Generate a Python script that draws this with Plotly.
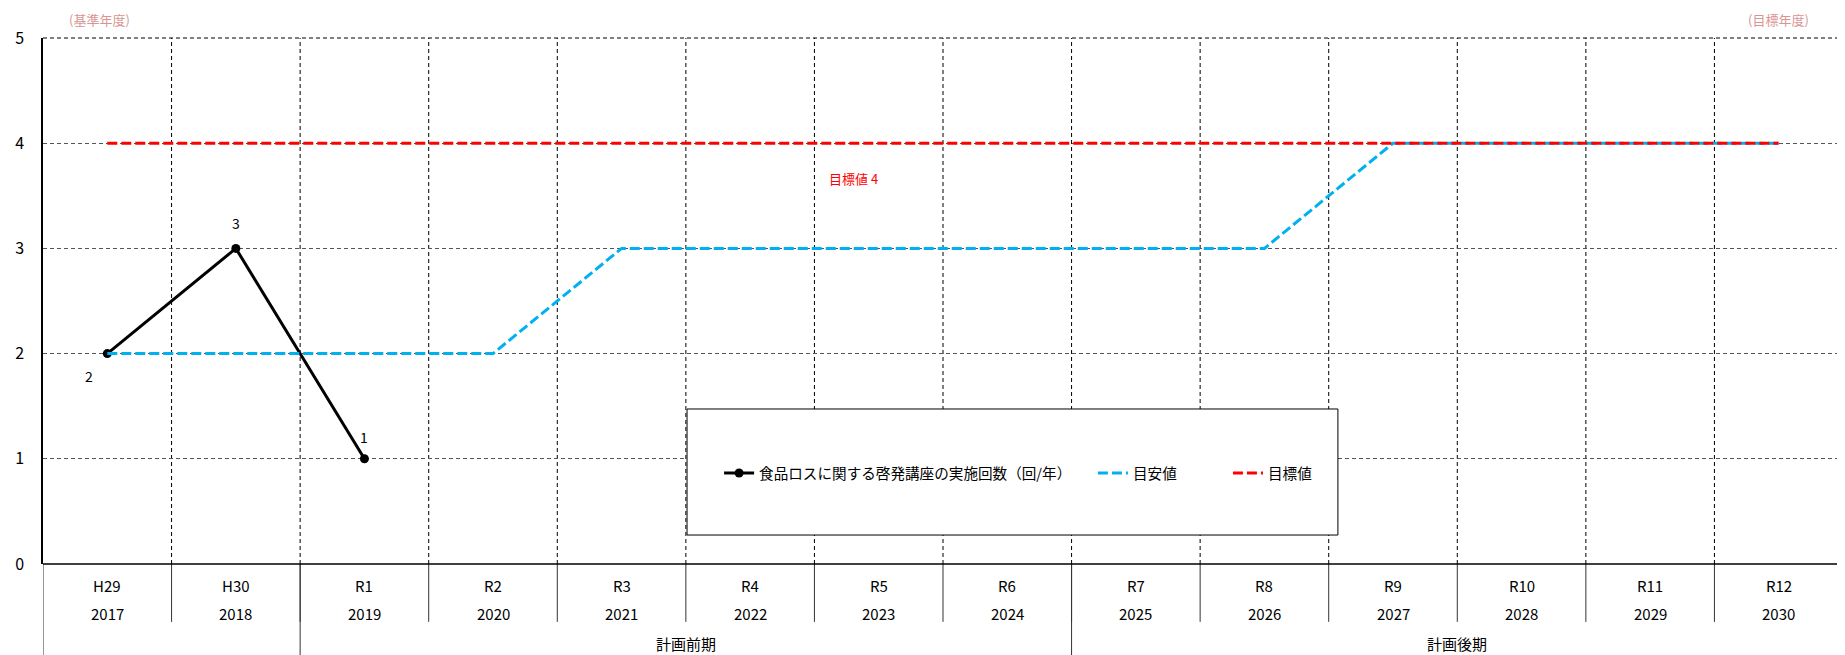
import plotly.graph_objects as go

# ---- data ----
era_labels = ["H29", "H30", "R1", "R2", "R3", "R4", "R5", "R6", "R7", "R8", "R9", "R10", "R11", "R12"]
year_labels = ["2017", "2018", "2019", "2020", "2021", "2022", "2023", "2024", "2025", "2026", "2027", "2028", "2029", "2030"]
actual_values = [2, 3, 1]
guide_values = [2, 2, 2, 2, 3, 3, 3, 3, 3, 3, 4, 4, 4, 4]
target_values = [4] * 14
group_labels = ["計画前期", "計画後期"]
group_spans = [(2, 7), (8, 13)]  # category index ranges
series_names = ["食品ロスに関する啓発講座の実施回数（回/年）", "目安値", "目標値"]
target_note = "目標値 4"

FONT = "Noto Sans CJK JP"
n = len(era_labels)
xs = list(range(n))

fig = go.Figure()

fig.add_trace(go.Scatter(
    x=xs[:len(actual_values)], y=actual_values, name=series_names[0],
    mode="lines+markers", legend="legend",
    line=dict(color="black", width=3),
    marker=dict(color="black", size=9),
))
fig.add_trace(go.Scatter(
    x=xs, y=guide_values, name=series_names[1], mode="lines", legend="legend2",
    line=dict(color="#00b0f0", width=3, dash="10px,4px"),
))
fig.add_trace(go.Scatter(
    x=xs, y=target_values, name=series_names[2], mode="lines", legend="legend3",
    line=dict(color="#ff0000", width=3, dash="10px,4px"),
))

shapes = []
# vertical dashed grid at category boundaries
for k in range(1, n + 1):
    shapes.append(dict(type="line", xref="x", yref="paper", x0=k - 0.5, x1=k - 0.5, y0=0, y1=1,
                       line=dict(color="black", width=1, dash="4px,3px"), layer="below"))
# top border dashed
shapes.append(dict(type="line", xref="paper", yref="paper", x0=0, x1=1, y0=1, y1=1,
                   line=dict(color="black", width=1, dash="4px,3px"), layer="below"))
# table separators
for k in range(1, n):
    shapes.append(dict(type="line", xref="x", yref="paper", x0=k - 0.5, x1=k - 0.5, y0=0, y1=-0.110,
                       line=dict(color="#333", width=1)))
for xb in [-0.5, group_spans[0][0] - 0.5, group_spans[1][0] - 0.5, n - 0.5]:
    shapes.append(dict(type="line", xref="x", yref="paper", x0=xb, x1=xb, y0=0, y1=-0.2,
                       line=dict(color="#333", width=1)))
# legend box
shapes.append(dict(type="rect", xref="paper", yref="paper", x0=0.3578, x1=0.7194, y0=0.0551, y1=0.2947,
                   fillcolor="white", line=dict(color="black", width=1), layer="above"))
# bottom axis line
shapes.append(dict(type="line", xref="paper", yref="paper", x0=0, x1=1, y0=0, y1=0,
                   line=dict(color="black", width=1.5)))

annotations = []
for i in range(n):
    annotations.append(dict(x=xs[i], y=-0.040, xref="x", yref="paper", text=era_labels[i],
                            xanchor="center", yanchor="middle",
                            showarrow=False, font=dict(family=FONT, size=15, color="black")))
    annotations.append(dict(x=xs[i], y=-0.095, xref="x", yref="paper", text=year_labels[i],
                            xanchor="center", yanchor="middle",
                            showarrow=False, font=dict(family=FONT, size=15, color="black")))
for lbl, (a, b) in zip(group_labels, group_spans):
    annotations.append(dict(x=(a + b) / 2, y=-0.152, xref="x", yref="paper", text=lbl,
                            xanchor="center", yanchor="middle",
                            showarrow=False, font=dict(family=FONT, size=15, color="black")))
# data labels
label_shifts = [(-18, -22), (0, 25), (0, 22)]
for i, v in enumerate(actual_values):
    dx, dy = label_shifts[i]
    annotations.append(dict(x=xs[i], y=v, xref="x", yref="y", text=str(v), showarrow=False,
                            xshift=dx, yshift=dy, xanchor="center", yanchor="middle",
                            font=dict(family=FONT, size=14, color="black")))
annotations.append(dict(x=-0.06, y=1.036, xref="x", yref="paper", text="(基準年度)", xanchor="center",
                        yanchor="middle", showarrow=False, font=dict(family=FONT, size=13, color="#d99594")))
annotations.append(dict(x=13.0, y=1.036, xref="x", yref="paper", text="(目標年度)", xanchor="center",
                        yanchor="middle", showarrow=False, font=dict(family=FONT, size=13, color="#d99594")))
annotations.append(dict(x=5.8, y=3.66, xref="x", yref="y", text=target_note, showarrow=False,
                        xanchor="center", yanchor="middle",
                        font=dict(family=FONT, size=13, color="#ff0000")))

leg_common = dict(orientation="h", y=0.173, xanchor="left", yanchor="middle",
                  bgcolor="rgba(0,0,0,0)", font=dict(family=FONT, size=14.6))

fig.update_layout(
    width=1837, height=647,
    margin=dict(l=35, r=2, t=30, b=91),
    paper_bgcolor="white", plot_bgcolor="white",
    font=dict(family=FONT, size=14, color="black"),
    xaxis=dict(range=[-0.5, n - 0.5], showgrid=False, showticklabels=False, zeroline=False,
               showline=False, fixedrange=True, automargin=False),
    yaxis=dict(range=[0, 5], tickvals=[0, 1, 2, 3, 4, 5], showgrid=True, gridcolor="#555",
               griddash="4px,3px", gridwidth=1, zeroline=False, showline=True, linecolor="black",
               linewidth=1.5, ticks="", ticklabelstandoff=14, automargin=False,
               tickfont=dict(family=FONT, size=16)),
    showlegend=True,
    legend=dict(x=0.3756, **leg_common),
    legend2=dict(x=0.5833, **leg_common),
    legend3=dict(x=0.6583, **leg_common),
    shapes=shapes, annotations=annotations,
)

fig.write_html("out.html")
